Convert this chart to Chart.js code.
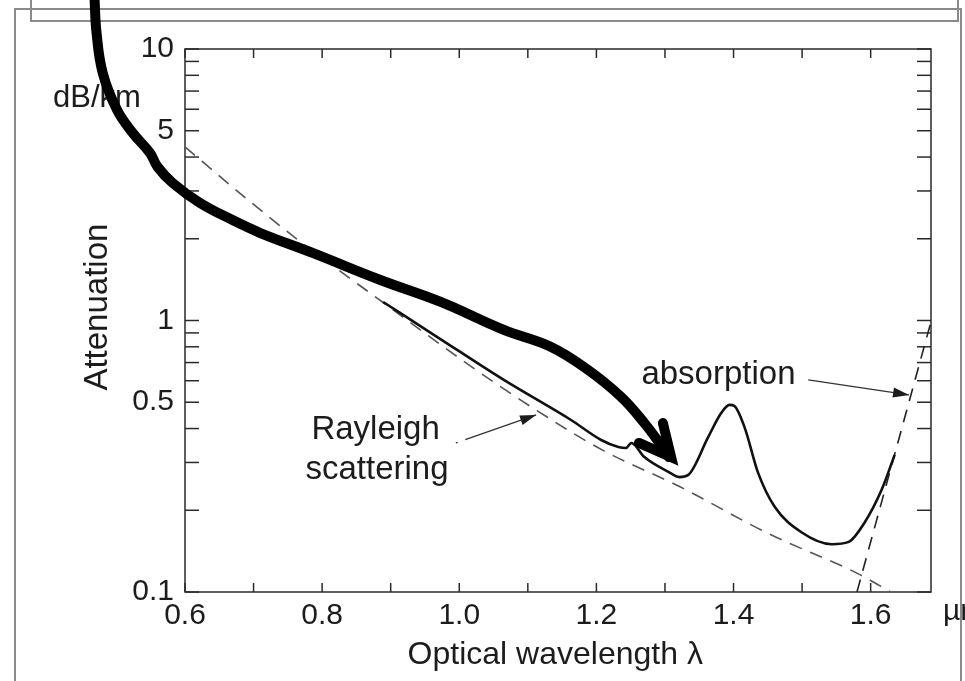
<!DOCTYPE html>
<html>
<head>
<meta charset="utf-8">
<script src="https://cdn.jsdelivr.net/npm/chart.js@4.4.1/dist/chart.umd.min.js"></script>
<style>
  html, body { margin: 0; padding: 0; background: #fff; }
  #wrap { width: 965px; height: 681px; }
</style>
</head>
<body>
<div id="wrap"><canvas id="lossChart" width="965" height="681"></canvas></div>
<script>
// measured fibre loss (dB/km) against wavelength (um)
const lossWavelength = [0.889, 0.968, 1.065, 1.163, 1.207, 1.232, 1.243, 1.251, 1.270, 1.305, 1.321, 1.334,
                        1.363, 1.382, 1.394, 1.401, 1.416, 1.436, 1.460, 1.499, 1.543, 1.568, 1.591, 1.616, 1.635];
const lossValue = [1.17, 0.869, 0.604, 0.430, 0.363, 0.342, 0.339, 0.354, 0.314, 0.277, 0.265, 0.270,
                   0.372, 0.456, 0.489, 0.485, 0.405, 0.274, 0.206, 0.166, 0.150, 0.153, 0.180, 0.238, 0.320];

// Rayleigh scattering limit (dashed)
const rayleighWavelength = [0.6, 0.692, 0.765, 0.890, 1.014, 1.112, 1.209, 1.322, 1.449, 1.585, 1.629];
const rayleighValue = [4.36, 2.78, 1.98, 1.16, 0.686, 0.468, 0.333, 0.244, 0.165, 0.1156, 0.1];

// infrared absorption edge (dashed)
const irWavelength = [1.580, 1.688];
const irValue = [0.1, 0.99];

// hand drawn arrow over the scan, from the top of the page down to the head
const bigArrowX = [0.468, 0.471, 0.480, 0.501, 0.524, 0.549, 0.560, 0.582, 0.622, 0.670, 0.710, 0.787,
                   0.885, 0.973, 1.065, 1.134, 1.188, 1.236, 1.270, 1.294, 1.306];
const bigArrowY = [15.4, 11.45, 8.16, 5.96, 4.90, 4.14, 3.68, 3.21, 2.71, 2.34, 2.10, 1.77,
                   1.41, 1.17, 0.923, 0.799, 0.657, 0.523, 0.419, 0.348, 0.314];
const bigHeadX = [1.262, 1.309, 1.297];
const bigHeadY = [0.354, 0.314, 0.419];

// label pointers
const rayleighPointerX = [0.995, 1.112];
const rayleighPointerY = [0.354, 0.449];
const absorptionPointerX = [1.509, 1.656];
const absorptionPointerY = [0.604, 0.532];

// axes
const xTickValues = [0.6, 0.7, 0.8, 0.9, 1.0, 1.1, 1.2, 1.3, 1.4, 1.5, 1.6];
const xLabelValues = [0.6, 0.8, 1.0, 1.2, 1.4, 1.6];
const yTickValues = [0.1, 0.2, 0.3, 0.4, 0.5, 0.6, 0.7, 0.8, 0.9, 1, 2, 3, 4, 5, 6, 7, 8, 9, 10];
const yLabelValues = [0.1, 0.5, 1, 5, 10];

// text labels placed in data coordinates
const noteText = ['Rayleigh', 'scattering', 'absorption'];
const noteX = [0.878, 0.880, 1.378];
const noteY = [0.396, 0.282, 0.630];

const inkColor = '#1c1c1c';
const fontFamily = "'Liberation Sans', Arial, sans-serif";

function toPoints(xs, ys) {
    return xs.map((x, i) => ({ x: x, y: ys[i] }));
}

function line(ctx, x1, y1, x2, y2) {
    ctx.beginPath();
    ctx.moveTo(x1, y1);
    ctx.lineTo(x2, y2);
    ctx.stroke();
}

// scan frame, plot box, inward ticks and text
const scanPlugin = {
    id: 'scanPlugin',
    beforeDraw(chart) {
        const ctx = chart.ctx;
        ctx.save();
        ctx.strokeStyle = '#8a8a8a';
        ctx.lineWidth = 2;
        // inner box of the page above
        ctx.strokeRect(31, -10, 927, 31);
        // outer box
        ctx.beginPath();
        ctx.moveTo(15, 690);
        ctx.lineTo(15, 9);
        ctx.lineTo(961, 9);
        ctx.lineTo(961, 690);
        ctx.stroke();
        ctx.restore();
    },
    beforeDatasetsDraw(chart) {
        const ctx = chart.ctx;
        const { left, right, top, bottom } = chart.chartArea;
        const xs = chart.scales.x;
        const ys = chart.scales.y;
        ctx.save();
        ctx.strokeStyle = '#2a2a2a';
        ctx.lineWidth = 1.5;
        ctx.strokeRect(left, top, right - left, bottom - top);
        xs.ticks.forEach(t => {
            const px = xs.getPixelForValue(t.value);
            line(ctx, px, bottom, px, bottom - 9);
            line(ctx, px, top, px, top + 9);
        });
        ys.ticks.forEach(t => {
            const py = ys.getPixelForValue(t.value);
            line(ctx, left, py, left + 14, py);
            line(ctx, right, py, right - 14, py);
        });

        ctx.fillStyle = inkColor;
        ctx.font = '33px ' + fontFamily;
        ctx.textAlign = 'center';
        ctx.textBaseline = 'middle';
        noteText.forEach((txt, i) => {
            ctx.fillText(txt, xs.getPixelForValue(noteX[i]), ys.getPixelForValue(noteY[i]));
        });
        ctx.font = '31px ' + fontFamily;
        ctx.fillText('dB/km', left - 88, ys.getPixelForValue(6.6));

        // axis titles
        ctx.font = '32px ' + fontFamily;
        ctx.fillText('Optical wavelength \u03bb', xs.getPixelForValue(1.14), bottom + 63);
        ctx.save();
        ctx.translate(left - 87, ys.getPixelForValue(1.12));
        ctx.rotate(-Math.PI / 2);
        ctx.font = '33px ' + fontFamily;
        ctx.fillText('Attenuation', 0, 0);
        ctx.restore();

        ctx.font = '30px ' + fontFamily;
        ctx.textAlign = 'left';
        ctx.fillText('\u00b5m', right + 12, bottom + 20);
        ctx.restore();
    },
    afterDatasetsDraw(chart) {
        // filled heads on the two thin pointers
        const ctx = chart.ctx;
        ctx.save();
        ctx.fillStyle = inkColor;
        [3, 4].forEach(idx => {
            const pts = chart.getDatasetMeta(idx).data;
            const a = pts[pts.length - 2], b = pts[pts.length - 1];
            const ang = Math.atan2(b.y - a.y, b.x - a.x);
            const len = 16, half = 5;
            ctx.beginPath();
            ctx.moveTo(b.x, b.y);
            ctx.lineTo(b.x - len * Math.cos(ang) + half * Math.sin(ang), b.y - len * Math.sin(ang) - half * Math.cos(ang));
            ctx.lineTo(b.x - len * Math.cos(ang) - half * Math.sin(ang), b.y - len * Math.sin(ang) + half * Math.cos(ang));
            ctx.closePath();
            ctx.fill();
        });
        ctx.restore();
    }
};

new Chart(document.getElementById('lossChart'), {
    type: 'line',
    data: {
        datasets: [
            {
                label: 'arrow',
                // reversed so the points are not x-sorted and chart.js keeps the part left of the axis
                data: toPoints(bigArrowX, bigArrowY).reverse(),
                borderColor: '#000',
                borderWidth: 10,
                borderCapStyle: 'round',
                pointRadius: 0,
                tension: 0.4,
                clip: false,
            },
            {
                label: 'arrow head',
                data: toPoints(bigHeadX, bigHeadY),
                borderColor: '#000',
                borderWidth: 10,
                borderCapStyle: 'round',
                borderJoinStyle: 'miter',
                pointRadius: 0,
                tension: 0,
                clip: false,
            },
            {
                label: 'Attenuation',
                data: toPoints(lossWavelength, lossValue),
                borderColor: '#111',
                borderWidth: 2.6,
                pointRadius: 0,
                cubicInterpolationMode: 'monotone',
            },
            {
                label: 'Rayleigh pointer',
                data: toPoints(rayleighPointerX, rayleighPointerY),
                borderColor: '#333',
                borderWidth: 1.3,
                borderDash: [2, 8, 400],
                pointRadius: 0,
            },
            {
                label: 'absorption pointer',
                data: toPoints(absorptionPointerX, absorptionPointerY),
                borderColor: '#333',
                borderWidth: 1.3,
                pointRadius: 0,
            },
            {
                label: 'Rayleigh scattering',
                data: toPoints(rayleighWavelength, rayleighValue),
                borderColor: '#555',
                borderWidth: 1.6,
                borderDash: [13, 9],
                pointRadius: 0,
                cubicInterpolationMode: 'monotone',
            },
            {
                label: 'absorption',
                data: toPoints(irWavelength, irValue),
                borderColor: '#222',
                borderWidth: 1.6,
                borderDash: [13, 9],
                pointRadius: 0,
            },
        ],
    },
    options: {
        responsive: false,
        animation: false,
        events: [],
        layout: { padding: { left: 0, top: 49, right: 34, bottom: 0 } },
        plugins: { legend: { display: false }, tooltip: { enabled: false } },
        scales: {
            x: {
                type: 'linear',
                min: 0.6,
                max: 1.688,
                afterBuildTicks: s => { s.ticks = xTickValues.map(v => ({ value: v })); },
                afterFit: s => { s.height = 89; },
                grid: { display: false, drawTicks: false },
                border: { display: false },
                ticks: {
                    autoSkip: false,
                    maxRotation: 0,
                    padding: 6,
                    color: inkColor,
                    font: { family: fontFamily, size: 30 },
                    callback: v => xLabelValues.some(l => Math.abs(l - v) < 1e-6) ? v.toFixed(1) : '',
                },
            },
            y: {
                type: 'logarithmic',
                min: 0.1,
                max: 10,
                afterBuildTicks: s => { s.ticks = yTickValues.map(v => ({ value: v })); },
                afterFit: s => { s.width = 185; },
                grid: { display: false, drawTicks: false },
                border: { display: false },
                ticks: {
                    autoSkip: false,
                    padding: 11,
                    color: inkColor,
                    font: { family: fontFamily, size: 30 },
                    callback: v => yLabelValues.includes(v) ? String(v) : '',
                },
            },
        },
    },
    plugins: [scanPlugin],
});
</script>
</body>
</html>
